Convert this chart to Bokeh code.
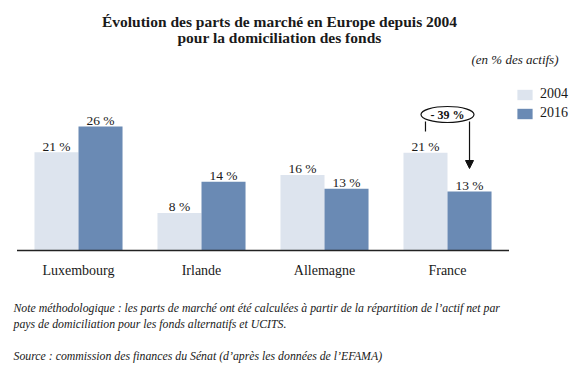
from bokeh.plotting import figure
from bokeh.models import (Range1d, ColumnDataSource, Label, Legend, LegendItem,
                          Arrow, NormalHead)
from bokeh.core.properties import value
from bokeh.embed import file_html
from bokeh.resources import INLINE

# ---------------- data ----------------
countries = ["Luxembourg", "Irlande", "Allemagne", "France"]
share_2004 = [20.7, 7.9, 15.9, 20.6]
share_2016 = [26.1, 14.5, 13.0, 12.4]
labels_2004 = ["21 %", "8 %", "16 %", "21 %"]
labels_2016 = ["26 %", "14 %", "13 %", "13 %"]
years = ["2004", "2016"]
change_label = "- 39 %"

title_lines = ["Évolution des parts de marché en Europe depuis 2004",
               "pour la domiciliation des fonds"]
unit_note = "(en % des actifs)"
note_lines = ["Note méthodologique : les parts de marché ont été calculées à partir de la répartition de l’actif net par",
              "pays de domiciliation pour les fonds alternatifs et UCITS."]
source_line = "Source : commission des finances du Sénat (d’après les données de l’EFAMA)"

# ---------------- style ----------------
C2004 = "#dde4ee"
C2016 = "#6a8ab4"
TXT = "#1a1a1a"
SERIF = "Liberation Serif"

W, H = 577, 368
PX_CAT = 123.0      # pixels per category
PX_PCT = 4.75       # pixels per percentage point
BASE_Y = 250        # baseline position from top (pixels)
bar_w = 0.358
off = bar_w / 2

x0 = 0.5 - 78 / PX_CAT
p = figure(width=W, height=H, output_backend="svg", toolbar_location=None,
           x_range=Range1d(x0, x0 + W / PX_CAT),
           y_range=Range1d(-(H - BASE_Y) / PX_PCT, BASE_Y / PX_PCT),
           min_border=0)
p.axis.visible = False
p.grid.visible = False
p.outline_line_color = None
p.background_fill_color = "white"


def ypix(py):
    """data y for a pixel row counted from the top"""
    return (BASE_Y - py) / PX_PCT


centers = [i + 0.5 for i in range(len(countries))]
src = ColumnDataSource(dict(
    c=countries,
    x04=[c - off for c in centers], x16=[c + off for c in centers],
    y04=share_2004, y16=share_2016,
    l04=labels_2004, l16=labels_2016,
    xc=centers, zero=[0] * len(countries)))

r04 = p.vbar(x="x04", top="y04", width=bar_w, source=src,
             fill_color=C2004, line_color=None)
r16 = p.vbar(x="x16", top="y16", width=bar_w, source=src,
             fill_color=C2016, line_color=None)

common = dict(text_font=value(SERIF), text_color=TXT, text_align="center",
              text_baseline="alphabetic")
p.text(x="x04", y="y04", text="l04", source=src, y_offset=-6,
       text_font_size="13.5px", **common)
p.text(x="x16", y="y16", text="l16", source=src, y_offset=-6,
       text_font_size="13.5px", **common)
p.text(x="xc", y="zero", text="c", source=src, y_offset=20,
       text_font_size="14px", **common)

# baseline axis
p.segment(x0=[0], y0=[0], x1=[len(countries)], y1=[0], line_color="#222222",
          line_width=1.5)

# legend
legend = Legend(items=[LegendItem(label=years[0], renderers=[r04]),
                       LegendItem(label=years[1], renderers=[r16])],
                location=(515, H - 121), orientation="vertical",
                glyph_width=19, glyph_height=13, label_height=13,
                spacing=3, padding=0, margin=0,
                label_text_font=SERIF, label_text_font_size="14px",
                label_text_color=TXT, label_standoff=6,
                border_line_color=None, background_fill_alpha=0)
p.add_layout(legend, "center")

# annotation -39 %
fr = len(countries) - 1
ex = centers[fr]
p.ellipse(x=[ex], y=[ypix(114)], width=53, height=16,
          width_units="screen", height_units="screen",
          fill_color="white", line_color="#111111", line_width=1.2)
p.text(x=[ex], y=[ypix(114)], text=[change_label],
       text_font=value(SERIF), text_font_size="12px", text_color="#111111",
       text_align="center", text_baseline="middle", text_font_style="bold")
p.segment(x0=[ex - off], y0=[ypix(121)], x1=[ex - off],
          y1=[ypix(131)], line_color="#111111", line_width=1.2)
p.add_layout(Arrow(x_start=ex + off, y_start=ypix(121),
                   x_end=ex + off, y_end=ypix(168),
                   line_color="#111111", line_width=1.2,
                   end=NormalHead(size=8, fill_color="#111111",
                                  line_color="#111111")))


def add_label(text, px, py, size, style="normal", align="left"):
    p.add_layout(Label(x=px, y=H - py, x_units="screen", y_units="screen",
                       text=text, text_font=SERIF, text_font_size=size,
                       text_font_style=style, text_color=TXT,
                       text_align=align, text_baseline="alphabetic"))


add_label(title_lines[0], 279, 20.5, "15.5px", "bold", "center")
add_label(title_lines[1], 279, 36.5, "15.5px", "bold", "center")
add_label(unit_note, 558, 59, "13px", "italic", "right")
add_label(note_lines[0], 13, 307, "11.8px", "italic")
add_label(note_lines[1], 13, 323, "11.8px", "italic")
add_label(source_line, 13, 355, "11.8px", "italic")

open("out.html", "w").write(file_html(p, INLINE))
